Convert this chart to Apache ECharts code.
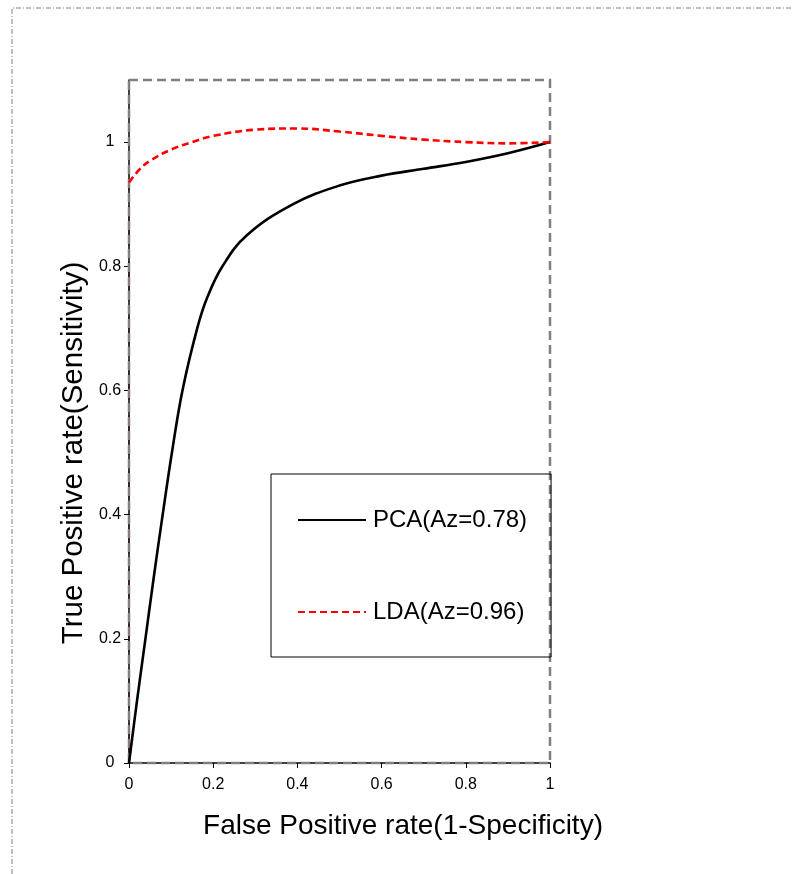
<!DOCTYPE html>
<html>
<head>
<meta charset="utf-8">
<title>ROC</title>
<script src="https://cdn.jsdelivr.net/npm/echarts@6/dist/echarts.min.js"></script>
<style>
  html, body { margin: 0; padding: 0; background: #fff; }
  #chart { width: 793px; height: 874px; }
</style>
</head>
<body>
<div id="chart"></div>
<script>
  // ROC curve values
  var pcaX = [0, 0.019, 0.039, 0.059, 0.08, 0.102, 0.127, 0.162, 0.186, 0.222, 0.28, 0.39, 0.5, 0.6, 0.7, 0.8, 0.9, 1];
  var pcaY = [0, 0.1, 0.2, 0.3, 0.4, 0.5, 0.6, 0.7, 0.75, 0.8, 0.85, 0.9, 0.93, 0.946, 0.957, 0.968, 0.982, 1];

  var ldaX = [0, 0.025, 0.05, 0.1, 0.15, 0.2, 0.3, 0.4, 0.5, 0.6, 0.7, 0.8, 0.9, 1];
  var ldaY = [0.935, 0.956, 0.97, 0.988, 1.0, 1.01, 1.02, 1.022, 1.017, 1.01, 1.004, 1.0, 0.998, 1];
  // LDA starts at the origin and goes straight up the y axis
  var ldaStartX = [0, 0];
  var ldaStartY = [0, 0.935];

  var tickValues = [0, 0.2, 0.4, 0.6, 0.8, 1];
  var seriesNames = ['PCA(Az=0.78)', 'LDA(Az=0.96)'];
  var xName = 'False Positive rate(1-Specificity)';
  var yName = 'True Positive rate(Sensitivity)';

  function zip(xs, ys) {
    return xs.map(function (x, i) { return [x, ys[i]]; });
  }

  var font = '"Liberation Sans", Arial, sans-serif';
  var myChart = echarts.init(document.getElementById('chart'));

  myChart.setOption({
    animation: false,
    backgroundColor: '#fff',
    grid: {
      left: 129,
      top: 80,
      width: 421,
      height: 683,
      show: true,
      z: 1,
      borderColor: '#808080',
      borderWidth: 2.5,
      borderType: [9, 5]
    },
    legend: {
      orient: 'vertical',
      left: 271,
      top: 474,
      padding: [34, 24, 33, 26],
      itemWidth: 68,
      itemHeight: 24,
      itemGap: 68,
      borderColor: '#000',
      borderWidth: 1,
      borderRadius: 0,
      itemStyle: { opacity: 0 },
      textStyle: { fontSize: 24, color: '#000', fontFamily: font, padding: [0, 0, 0, 2] },
      data: seriesNames
    },
    xAxis: {
      type: 'value',
      min: 0,
      max: 1,
      interval: 0.2,
      splitLine: { show: false },
      axisLine: { lineStyle: { color: '#000', width: 1.5 } },
      axisTick: { length: 5, lineStyle: { color: '#000' } },
      axisLabel: { margin: 14, fontSize: 16, color: '#000', fontFamily: font }
    },
    yAxis: {
      type: 'value',
      min: 0,
      max: 1.1,
      interval: 0.2,
      splitLine: { show: false },
      axisLine: { show: true, lineStyle: { color: '#000', width: 1.5 } },
      axisTick: { show: true, length: 5, customValues: tickValues, lineStyle: { color: '#000' } },
      axisLabel: { margin: 19, align: 'center', fontSize: 16, color: '#000', fontFamily: font, customValues: tickValues }
    },
    graphic: [
      {
        type: 'polyline',
        silent: true,
        shape: { points: [[12, 874], [12, 8], [793, 8]] },
        style: { stroke: '#808080', lineWidth: 1, fill: null, lineDash: [5, 2, 1, 2] }
      },
      {
        type: 'text',
        x: 403,
        y: 826,
        style: { text: xName, fontSize: 28, fontFamily: font, fill: '#000', align: 'center', verticalAlign: 'middle' }
      },
      {
        type: 'text',
        x: 74,
        y: 453,
        rotation: Math.PI / 2,
        style: { text: yName, fontSize: 29.5, fontFamily: font, fill: '#000', align: 'center', verticalAlign: 'middle' }
      }
    ],
    series: [
      {
        name: seriesNames[0],
        type: 'line',
        symbol: 'none',
        smooth: 0.4,
        lineStyle: { color: '#000', width: 2.6, type: 'solid' },
        itemStyle: { color: '#000' },
        data: zip(pcaX, pcaY)
      },
      {
        name: seriesNames[1],
        type: 'line',
        symbol: 'none',
        smooth: 0.4,
        lineStyle: { color: '#ff0000', width: 2.6, type: [7, 4] },
        itemStyle: { color: '#ff0000' },
        data: zip(ldaX, ldaY)
      },
      {
        name: seriesNames[1],
        type: 'line',
        symbol: 'none',
        z: -1,
        lineStyle: { color: '#ff0000', width: 1, type: [7, 4] },
        itemStyle: { color: '#ff0000' },
        data: zip(ldaStartX, ldaStartY)
      }
    ]
  });
</script>
</body>
</html>
